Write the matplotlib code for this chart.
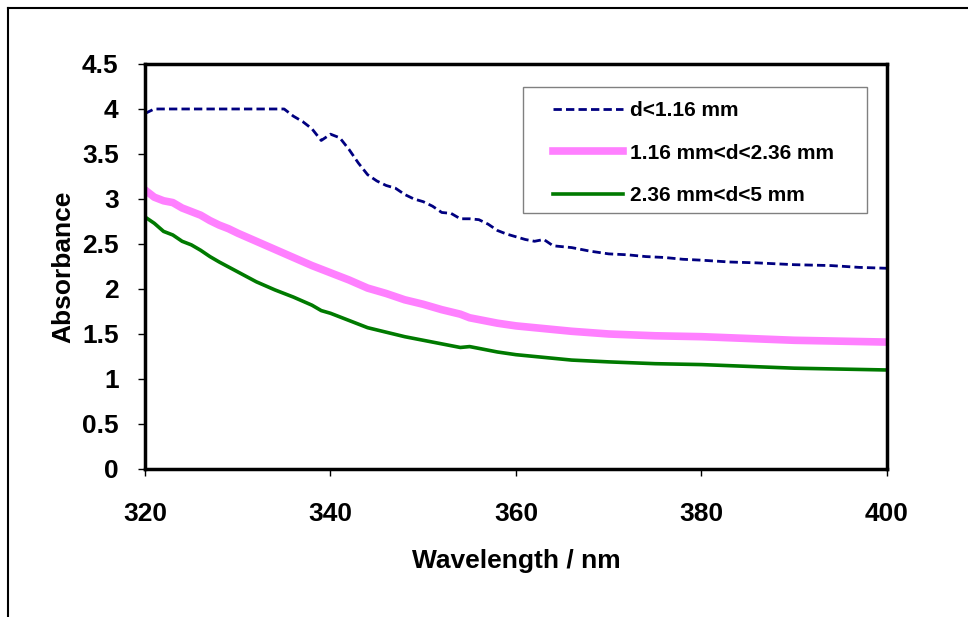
import matplotlib.pyplot as plt
from matplotlib.lines import Line2D
from matplotlib.patches import Rectangle

plt.rcParams['font.family'] = ['Liberation Sans', 'DejaVu Sans']
plt.rcParams['font.weight'] = 'bold'

# d < 1.16 mm
wl_a = [320, 321, 325, 330, 335, 336, 337, 338, 339, 340, 341, 342, 343, 344, 345, 346, 347,
        348, 349, 350, 351, 352, 353, 354, 355, 356, 357, 358, 359, 360, 361, 362, 363, 364,
        365, 366, 367, 368, 370, 372, 374, 376, 378, 380, 383, 386, 388, 390, 394, 397, 400]
abs_a = [3.95, 4.0, 4.0, 4.0, 4.0, 3.92, 3.86, 3.78, 3.65, 3.72, 3.68, 3.55, 3.4, 3.27, 3.2, 3.15, 3.12,
         3.05, 3.0, 2.97, 2.92, 2.85, 2.84, 2.78, 2.78, 2.77, 2.72, 2.65, 2.61, 2.58, 2.55, 2.53, 2.55, 2.48,
         2.47, 2.46, 2.44, 2.42, 2.39, 2.38, 2.36, 2.35, 2.33, 2.32, 2.30, 2.29, 2.28, 2.27, 2.26, 2.24, 2.23]

# 1.16 mm < d < 2.36 mm
wl_b = [320, 321, 322, 323, 324, 325, 326, 327, 328, 329, 330, 332, 334, 336, 338, 340, 342, 344,
        346, 348, 350, 352, 354, 355, 356, 358, 360, 363, 366, 370, 375, 380, 385, 390, 395, 400]
abs_b = [3.1, 3.02, 2.98, 2.96, 2.9, 2.86, 2.82, 2.76, 2.71, 2.67, 2.62, 2.53, 2.44, 2.35, 2.26, 2.18, 2.1, 2.01,
         1.95, 1.88, 1.83, 1.77, 1.72, 1.68, 1.66, 1.62, 1.59, 1.56, 1.53, 1.5, 1.48, 1.47, 1.45, 1.43, 1.42, 1.41]

# 2.36 mm < d < 5 mm
wl_c = [320, 321, 322, 323, 324, 325, 326, 327, 328, 330, 332, 334, 336, 338, 339, 340, 342, 344,
        346, 348, 350, 352, 354, 355, 356, 358, 360, 363, 366, 370, 375, 380, 385, 390, 395, 400]
abs_c = [2.8, 2.73, 2.64, 2.6, 2.53, 2.49, 2.43, 2.36, 2.3, 2.19, 2.08, 1.99, 1.91, 1.82, 1.76, 1.73, 1.65, 1.57,
         1.52, 1.47, 1.43, 1.39, 1.35, 1.36, 1.34, 1.3, 1.27, 1.24, 1.21, 1.19, 1.17, 1.16, 1.14, 1.12, 1.11, 1.1]

labels = ['d<1.16 mm', '1.16 mm<d<2.36 mm', '2.36 mm<d<5 mm']

fig = plt.figure(figsize=(9.68, 6.17), dpi=100)
ax = fig.add_axes([0.1498, 0.2399, 0.7665, 0.6564])

ax.plot(wl_a, abs_a, color='#000080', lw=2, ls=(0, (3, 1.5)), label=labels[0])
ax.plot(wl_b, abs_b, color='#ff80ff', lw=5.5, label=labels[1])
ax.plot(wl_c, abs_c, color='#007a00', lw=2.6, label=labels[2])

ax.set_xlim(320, 400)
ax.set_ylim(0, 4.5)
ax.set_xticks([320, 340, 360, 380, 400])
ax.set_yticks([0, 0.5, 1, 1.5, 2, 2.5, 3, 3.5, 4, 4.5])
ax.set_yticklabels(['0', '0.5', '1', '1.5', '2', '2.5', '3', '3.5', '4', '4.5'])
ax.tick_params(axis='both', labelsize=19, length=5, width=1)
ax.tick_params(axis='x', pad=19)
ax.tick_params(axis='y', pad=14)
for s in ax.spines.values():
    s.set_linewidth(2.5)

ax.set_xlabel('Wavelength / nm', fontsize=19, fontweight='bold', labelpad=16)
ax.set_ylabel('Absorbance', fontsize=19, fontweight='bold', labelpad=5)

# legend box drawn separately so padding matches the original
ax.add_patch(Rectangle((0.5094, 0.632), 0.4636, 0.311, transform=ax.transAxes,
                       facecolor='white', edgecolor='#808080', lw=1, zorder=4))
leg = ax.legend(loc='upper left', bbox_to_anchor=(0.5499, 0.9086), borderaxespad=0,
                fontsize=15, handlelength=3.37, handletextpad=0.33, labelspacing=1.14,
                borderpad=0, frameon=False)
leg.set_zorder(5)

# outer frame lines (top and left)
fig.add_artist(Line2D([0.008, 1.0], [0.987, 0.987], color='black', lw=1.5, transform=fig.transFigure))
fig.add_artist(Line2D([0.008, 0.008], [0.0, 0.987], color='black', lw=1.5, transform=fig.transFigure))

fig.savefig('out.png', dpi=100)
